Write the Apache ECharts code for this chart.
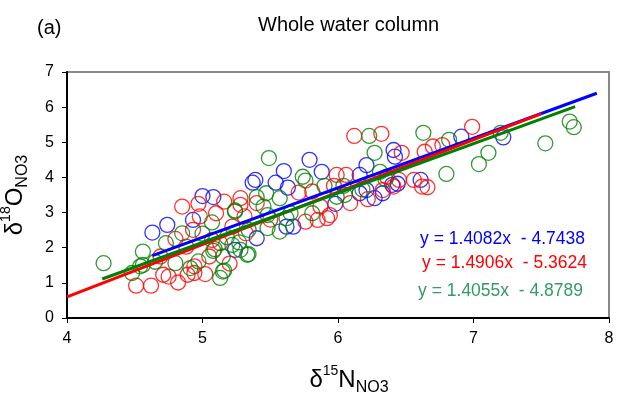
<!DOCTYPE html>
<html><head><meta charset="utf-8">
<script src="https://cdn.jsdelivr.net/npm/echarts@6/dist/echarts.min.js"></script>
<style>html,body{margin:0;padding:0;background:#fff}#c{width:617px;height:398px}</style>
</head><body><div id="c"></div>
<script>
// δ15N (x) vs δ18O (y) sample points
const bluePoints = [[4.63,2.43],[4.74,2.65],[5.00,3.47],[5.08,3.44],[4.93,2.79],[5.37,3.85],[5.40,2.27],[5.79,4.50],[5.60,4.18],[5.88,4.16],[5.54,3.85],[5.63,3.71],[5.62,2.60],[5.24,1.94],[6.41,4.78],[6.42,4.59],[6.21,4.35],[6.21,3.64],[6.27,3.41],[6.44,3.82],[6.61,3.93],[6.91,5.16],[7.22,5.14],[5.67,2.60],[6.16,4.07],[6.33,3.55],[5.39,3.93],[6.40,3.79],[6.16,3.55],[5.98,3.25]];
const redPoints = [[4.51,0.92],[4.62,0.92],[4.85,3.17],[4.97,3.25],[5.16,3.31],[5.28,3.41],[4.75,1.18],[4.82,1.01],[4.94,1.28],[5.02,1.25],[4.69,1.75],[4.88,2.03],[4.93,2.51],[5.07,2.22],[5.22,2.60],[5.32,2.41],[5.71,3.57],[5.81,3.60],[5.87,3.17],[5.40,3.27],[5.76,2.74],[5.85,2.79],[5.31,2.89],[4.98,2.89],[5.10,2.98],[5.13,2.13],[6.12,5.18],[6.32,5.24],[6.47,4.70],[6.64,4.73],[6.70,4.88],[6.77,4.92],[6.06,4.07],[6.36,4.02],[6.45,3.93],[6.56,3.93],[6.62,3.74],[6.66,3.72],[6.09,3.27],[6.22,3.38],[5.97,3.76],[5.92,2.84],[5.94,2.93],[6.33,3.64],[6.41,3.74],[6.99,5.44],[4.71,1.23],[5.28,3.22],[5.99,4.07],[4.89,1.23],[4.94,1.47],[5.20,1.55],[5.50,2.80],[5.05,1.75],[4.80,2.25]];
const greenPoints = [[4.27,1.56],[4.56,1.89],[4.48,1.28],[4.85,2.41],[4.73,2.13],[5.07,2.72],[5.24,3.03],[4.80,1.56],[4.91,1.42],[4.97,1.61],[5.13,1.14],[5.16,1.35],[5.09,1.96],[5.28,1.94],[5.34,1.82],[5.22,2.08],[5.40,3.44],[4.56,1.51],[5.49,4.55],[5.74,4.02],[5.76,3.91],[5.90,3.76],[5.47,3.55],[5.45,3.17],[5.57,3.41],[5.62,2.84],[5.65,2.98],[5.81,2.98],[5.48,2.56],[5.57,2.46],[5.34,2.51],[5.24,3.06],[5.08,1.91],[5.15,1.75],[5.27,2.15],[5.33,1.80],[5.15,1.32],[5.48,2.93],[6.23,5.18],[6.63,5.27],[6.27,4.70],[6.82,5.07],[6.80,4.10],[6.31,4.16],[6.35,3.95],[6.18,3.66],[6.04,3.76],[6.05,3.50],[5.99,3.45],[7.20,5.27],[7.11,4.70],[7.04,4.38],[7.53,4.97],[7.71,5.59],[7.74,5.43],[4.54,1.47],[4.65,1.60],[5.00,2.40],[5.18,2.30]];
// regression line end points
const blueFit = [[4.63,1.776],[7.91,6.395]];
const redFit = [[4.00,0.600],[7.50,5.817]];
const greenFit = [[4.26,1.109],[7.75,6.014]];
const equations = ['y = 1.4082x  - 4.7438','y = 1.4906x  - 5.3624','y = 1.4055x  - 4.8789'];
const xTicks = [4,5,6,7,8];
const yTicks = [0,1,2,3,4,5,6,7];

const FONT = '"Liberation Sans", Arial, sans-serif';
const chart = echarts.init(document.getElementById('c'), null, {renderer:'canvas'});
function pts(data, color){
  return {type:'scatter', data, symbol:'circle', symbolSize:15, z:2,
    itemStyle:{color:'rgba(0,0,0,0)', borderColor:color, borderWidth:1.3}, silent:true};
}
function fit(data, color){
  return {type:'line', data, showSymbol:false, z:5, lineStyle:{color, width:3}, silent:true};
}
const rich = {
  a:{fontSize:24, fontFamily:FONT, color:'#000', lineHeight:32, verticalAlign:'middle'},
  sup:{fontSize:14, fontFamily:FONT, color:'#000', lineHeight:32, verticalAlign:'top'},
  sub:{fontSize:16, fontFamily:FONT, color:'#000', lineHeight:32, verticalAlign:'bottom'}
};
chart.setOption({
  animation:false,
  backgroundColor:'#fff',
  grid:{left:67, right:8, top:72, bottom:80, containLabel:false, outerBoundsMode:'none',
    show:true, borderColor:'#888', borderWidth:2, backgroundColor:'transparent'},
  xAxis:{type:'value', min:xTicks[0], max:xTicks[xTicks.length-1], interval:1,
    axisLine:{onZero:false, lineStyle:{color:'#000', width:2}},
    axisTick:{inside:false, length:5, lineStyle:{color:'#000', width:1}},
    splitLine:{show:false},
    axisLabel:{color:'#000', fontSize:16, fontFamily:FONT, margin:13},
    name:'{a|δ}{sup|15}{a|N}{sub|NO3}', nameLocation:'middle', nameGap:46,
    nameTextStyle:{rich, padding:[0,0,0,22]}
  },
  yAxis:{type:'value', min:yTicks[0], max:yTicks[yTicks.length-1], interval:1,
    axisLine:{onZero:false, lineStyle:{color:'#000', width:2}},
    axisTick:{inside:false, length:5, lineStyle:{color:'#000', width:1}},
    splitLine:{show:false},
    axisLabel:{color:'#000', fontSize:16, fontFamily:FONT, margin:13},
    name:'{a|δ}{sup|18}{a|O}{sub|NO3}', nameLocation:'middle', nameGap:36, nameRotate:90,
    nameTextStyle:{rich}
  },
  graphic:[
    {type:'text', left:37, top:18, style:{text:'(a)', font:'20px '+FONT, fill:'#000'}},
    {type:'text', left:258, top:15, style:{text:'Whole water column', font:'20px '+FONT, fill:'#000'}},
    {type:'text', right:32, top:230, style:{text:equations[0], font:'17.5px '+FONT, fill:'#0000ff'}},
    {type:'text', right:30, top:254, style:{text:equations[1], font:'17.5px '+FONT, fill:'#ff0000'}},
    {type:'text', right:34, top:282, style:{text:equations[2], font:'17.5px '+FONT, fill:'#339966'}}
  ],
  series:[
    pts(bluePoints,'#0000ff'), pts(redPoints,'#ff0000'), pts(greenPoints,'#008000'),
    fit(blueFit,'#0000ff'), fit(redFit,'#ff0000'), fit(greenFit,'#008000')
  ]
});
</script></body></html>
